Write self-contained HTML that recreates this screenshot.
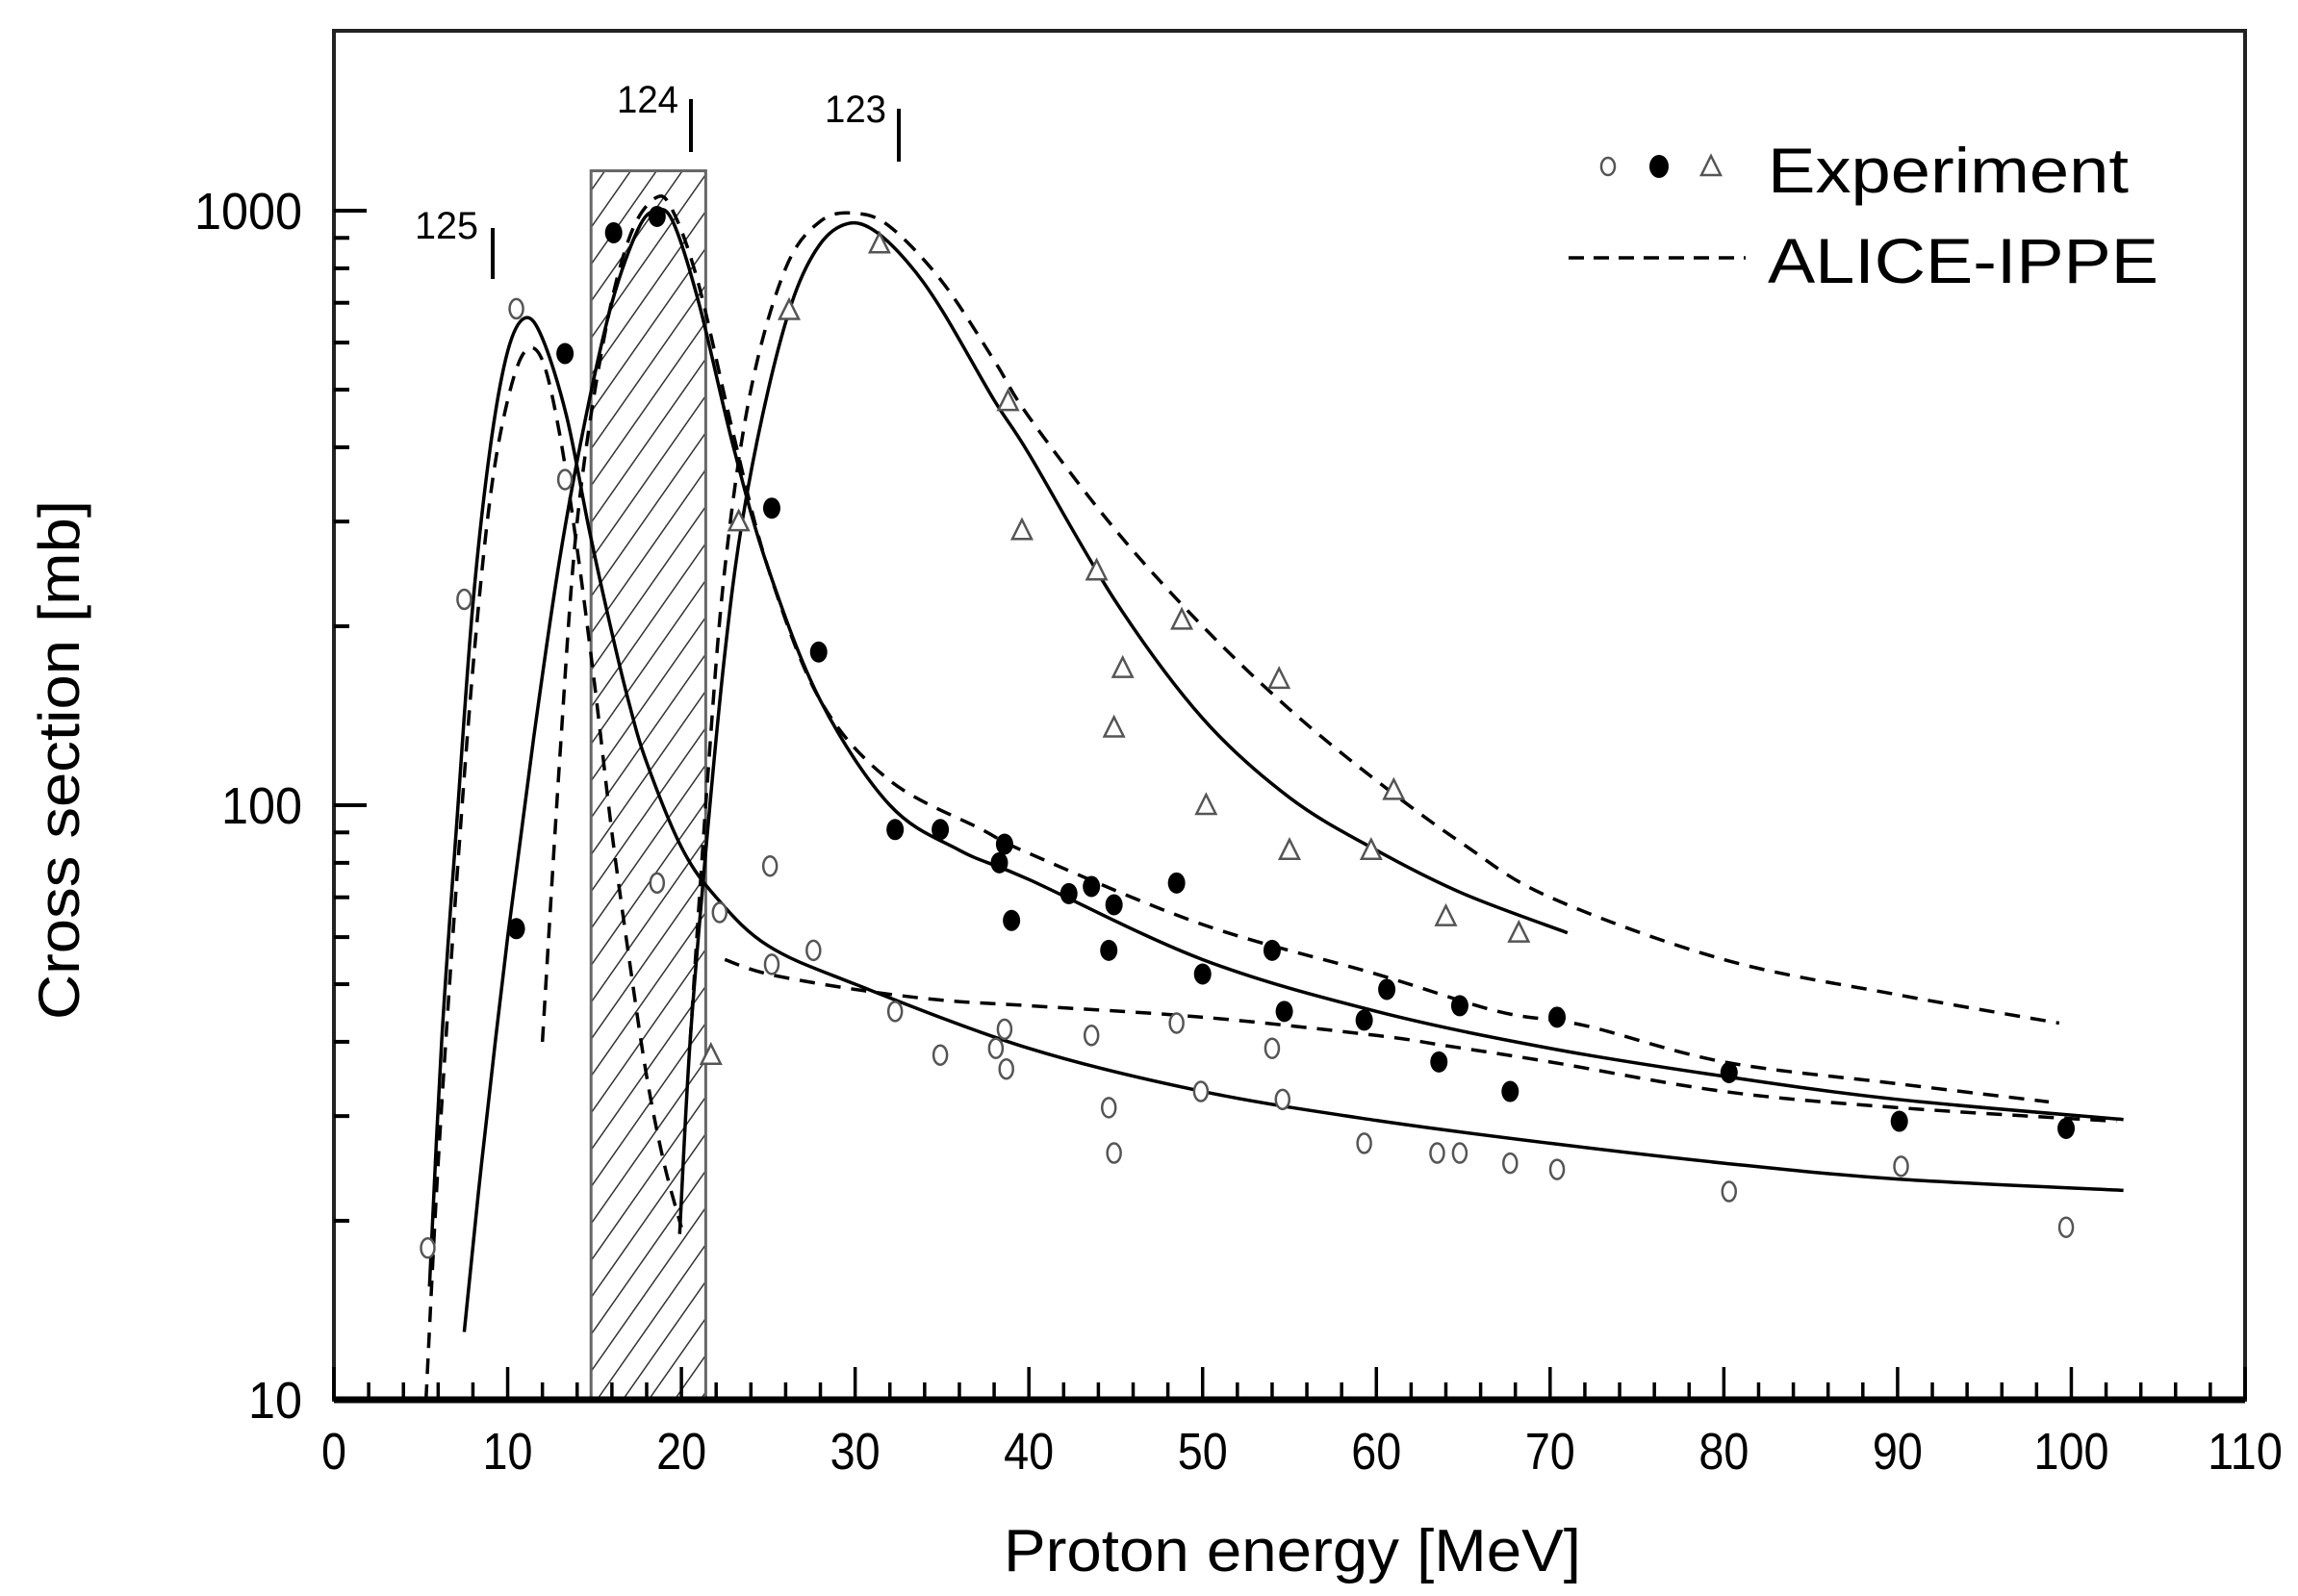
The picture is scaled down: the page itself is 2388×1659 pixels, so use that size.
<!DOCTYPE html>
<html><head><meta charset="utf-8"><style>
html,body{margin:0;padding:0;background:#fff;}
svg{display:block;font-family:"Liberation Sans",Arial,sans-serif;}
</style></head><body>
<svg id="chart" xmlns="http://www.w3.org/2000/svg" width="2388" height="1659" viewBox="0 0 2388 1659">
<defs>
<pattern id="hatch" patternUnits="userSpaceOnUse" width="22" height="22" patternTransform="rotate(35)">
<rect width="22" height="22" fill="#fff"/><line x1="0" y1="0" x2="0" y2="22" stroke="#333" stroke-width="3"/>
</pattern>
</defs>
<g id="plot"></g>
<text x="0" y="0" font-size="60" text-anchor="middle" transform="translate(82,790) rotate(-90)" textLength="540" lengthAdjust="spacingAndGlyphs">Cross section [mb]</text>
<text x="1343" y="1633" font-size="62" text-anchor="middle" textLength="600" lengthAdjust="spacingAndGlyphs">Proton energy [MeV]</text>
<g>
<ellipse cx="1671" cy="173" rx="7" ry="9" fill="#fff" stroke="#555" stroke-width="2.5"/>
<ellipse cx="1724" cy="173" rx="10" ry="12" fill="#000"/>
<polygon points="1778,162 1788,182 1768,182" fill="#fff" stroke="#555" stroke-width="2.5"/>
<text x="1837" y="200" font-size="66" textLength="375" lengthAdjust="spacingAndGlyphs">Experiment</text>
<line x1="1630" y1="268" x2="1814" y2="268" stroke="#000" stroke-width="3.5" stroke-dasharray="16,10"/>
<text x="1837" y="294" font-size="66" textLength="406" lengthAdjust="spacingAndGlyphs">ALICE-IPPE</text>
</g>
<g>
<text x="431" y="248" font-size="40" textLength="66" lengthAdjust="spacingAndGlyphs">125</text>
<line x1="512" y1="237" x2="512" y2="290" stroke="#000" stroke-width="4"/>
<text x="641" y="117" font-size="40" textLength="64" lengthAdjust="spacingAndGlyphs">124</text>
<line x1="718" y1="103" x2="718" y2="158" stroke="#000" stroke-width="4"/>
<text x="857" y="127" font-size="40" textLength="64" lengthAdjust="spacingAndGlyphs">123</text>
<line x1="934" y1="113" x2="934" y2="168" stroke="#000" stroke-width="4"/>
</g>
</svg>
<script>
const xTicks = [0,10,20,30,40,50,60,70,80,90,100,110];
const yTicks = [10,100,1000];
const yTickLabels = ["10","100","1000"];
const hatchRange = [14.8,21.4,1167];

const sol125E = [5.5,6.2,7.1,8,9,10,11,12,13.4,14.7,16,17,18,20,22,25,30,40,50,60,70,80,90,103];
const sol125S = [15.5,40,96,218,400,580,660,610,450,290,195,148,118,85,70,58,50,39,33,29.5,27,25,23.5,22.5];
const dash125aE = [5.3,6,7,8,9,10,11,12,13,14,15,16,17,18,19,20];
const dash125aS = [10,25,70,170,330,480,580,560,420,270,160,90,55,35,25,19.5];
const dash125bE = [22.5,25,30,35,40,50,60,64,70,80,90,102.6];
const dash125bS = [55,52,49,47,46,44,41,39.4,37,33,31,29.4];
const sol124E = [7.5,8.5,10,11.5,13,14.5,16,17.5,18.5,19.5,21,23,25,28,32,36,40,50,60,70,80,90,103];
const sol124S = [13,25,60,130,260,450,700,930,1000,960,700,400,250,150,100,84,75,55,45,39,35,32,29.6];
const dash124E = [12,13,14,15.5,17,18.5,19.5,21,23,25,28,32,37.3,40,50,60,67,72,80,90,98.7];
const dash124S = [40,120,300,600,900,1050,1000,750,420,250,150,110,91,83,63,52,45,42.6,37,34,31.7];
const sol123E = [19.9,20.5,21.5,22.5,23.5,25,26.5,28,29.5,31,33,35,38,40,45,50,55,60,65,71];
const sol123S = [19,40,90,180,300,500,720,880,950,930,820,680,480,390,220,140,103,84,71,61];
const dash123E = [20.5,21.5,22.5,24,26,28,30,32,35,38,40,45,50,55,60,65,70,80,90,99.3];
const dash123S = [40,110,250,500,800,960,990,940,760,560,450,290,200,145,110,86,70,55,48,43];

const openE = [5.4,7.5,10.5,13.3,18.6,22.2,25.1,27.6,32.3,34.9,38.6,38.7,38.1,43.6,44.6,44.9,48.5,49.9,54,54.6,59.3,63.5,64.8,67.7,70.4,80.3,90.2,99.7,25.2];
const openS = [18,222,684,353,74,66,79,57,45,38,42,36,39,41,31,26,43,33,39,32,27,26,26,25,24.4,22.4,24.7,19.5,54];
const fillE = [10.5,13.3,16.1,18.6,25.2,27.9,32.3,34.9,38.6,38.3,39,42.3,43.6,44.9,44.6,48.5,50,54,54.7,59.3,60.6,63.6,64.8,67.7,70.4,80.3,90.1,99.7];
const fillS = [62,575,918,978,316,181,91,91,86,80,64,71,73,68,57,74,52,57,45,43.5,49,37,46,33,44,35.5,29.4,28.6];
const triE = [21.7,23.3,26.2,31.4,38.8,39.6,43.9,45.4,44.9,48.8,50.2,54.4,55,59.7,61,64,68.2];
const triS = [38,300,680,880,478,290,248,170,135,205,100,163,84,84,106,65,61];

const X0=347, X1=2333, YB=1455, DEC=618, YT=32;
function xs(e){return X0+(X1-X0)*e/110;}
function ys(v){return YB-(Math.log10(v)-1)*DEC;}
const NS="http://www.w3.org/2000/svg";
const plot=document.getElementById('plot');
function mk(tag,attrs){const el=document.createElementNS(NS,tag);for(const k in attrs)el.setAttribute(k,attrs[k]);plot.appendChild(el);return el;}

const hr=mk('rect',{x:xs(hatchRange[0]),y:ys(hatchRange[2]),width:xs(hatchRange[1])-xs(hatchRange[0]),height:YB-ys(hatchRange[2]),fill:'url(#hatch)',stroke:'#666','stroke-width':3});



const fr=mk('rect',{x:X0,y:YT,width:X1-X0,height:YB-YT,fill:'none',stroke:'#222','stroke-width':4});


const bx=mk('line',{x1:X0,y1:YB,x2:X1,y2:YB,stroke:'#000','stroke-width':7});



for(let e=0;e<=110;e+=2){
  const major=(e%10===0);
  const t=mk('line',{x1:xs(e),y1:YB,x2:xs(e),y2:YB-(major?34:18),stroke:'#000','stroke-width':3.5});
  
  
}
xTicks.forEach(v=>{
  const t=mk('text',{x:xs(v),y:1527,'font-size':54,'text-anchor':'middle'});
  t.textContent=String(v);
  const w=String(v).length*26;
  t.setAttribute('textLength',w);t.setAttribute('lengthAdjust','spacingAndGlyphs');
  
  
});
for(let d=1;d<=3;d++){
  for(let m=1;m<=9;m++){
    const v=m*Math.pow(10,d);
    if(v>1500)break;
    const yy=ys(v);
    const t=mk('line',{x1:X0,y1:yy,x2:X0+(m===1?34:16),y2:yy,stroke:'#000','stroke-width':4});
    
    
  }
}
yTicks.forEach((v,i)=>{
  const s=yTickLabels[i];
  const t=mk('text',{x:314,y:ys(v)+19,'font-size':54,'text-anchor':'end',textLength:s.length*28,lengthAdjust:'spacingAndGlyphs'});
  t.textContent=s;
  
  
});

function curve(E,S,dashed,name){
  const p=E.map((e,i)=>[xs(e),ys(S[i])]);
  let d='M'+p[0][0]+','+p[0][1];
  for(let i=0;i<p.length-1;i++){
    const p0=p[i-1]||p[i],p1=p[i],p2=p[i+1],p3=p[i+2]||p[i+1];
    const c1=[p1[0]+(p2[0]-p0[0])/6,p1[1]+(p2[1]-p0[1])/6];
    const c2=[p2[0]-(p3[0]-p1[0])/6,p2[1]-(p3[1]-p1[1])/6];
    d+=' C'+c1[0]+','+c1[1]+' '+c2[0]+','+c2[1]+' '+p2[0]+','+p2[1];
  }
  const el=mk('path',{d:d,fill:'none',stroke:'#000','stroke-width':3.5});
  if(dashed)el.setAttribute('stroke-dasharray','16,11');
  
  
}
curve(sol125E,sol125S,false,'fit-125-solid');
curve(dash125aE,dash125aS,true,'alice-125-dashed');
curve(dash125bE,dash125bS,true,'alice-125-dashed-tail');
curve(sol124E,sol124S,false,'fit-124-solid');
curve(dash124E,dash124S,true,'alice-124-dashed');
curve(sol123E,sol123S,false,'fit-123-solid');
curve(dash123E,dash123S,true,'alice-123-dashed');

openE.forEach((e,i)=>{
  const c=mk('ellipse',{cx:xs(e),cy:ys(openS[i]),rx:7,ry:10,fill:'#fff',stroke:'#555','stroke-width':2.5});
  
  
});
fillE.forEach((e,i)=>{
  const c=mk('ellipse',{cx:xs(e),cy:ys(fillS[i]),rx:9,ry:11,fill:'#000'});
  
  
});
triE.forEach((e,i)=>{
  const x=xs(e),y=ys(triS[i]);
  const c=mk('polygon',{points:(x)+','+(y-11)+' '+(x+10)+','+(y+9)+' '+(x-10)+','+(y+9),fill:'#fff',stroke:'#555','stroke-width':2.5});
  
  
});
</script>
</body></html>
